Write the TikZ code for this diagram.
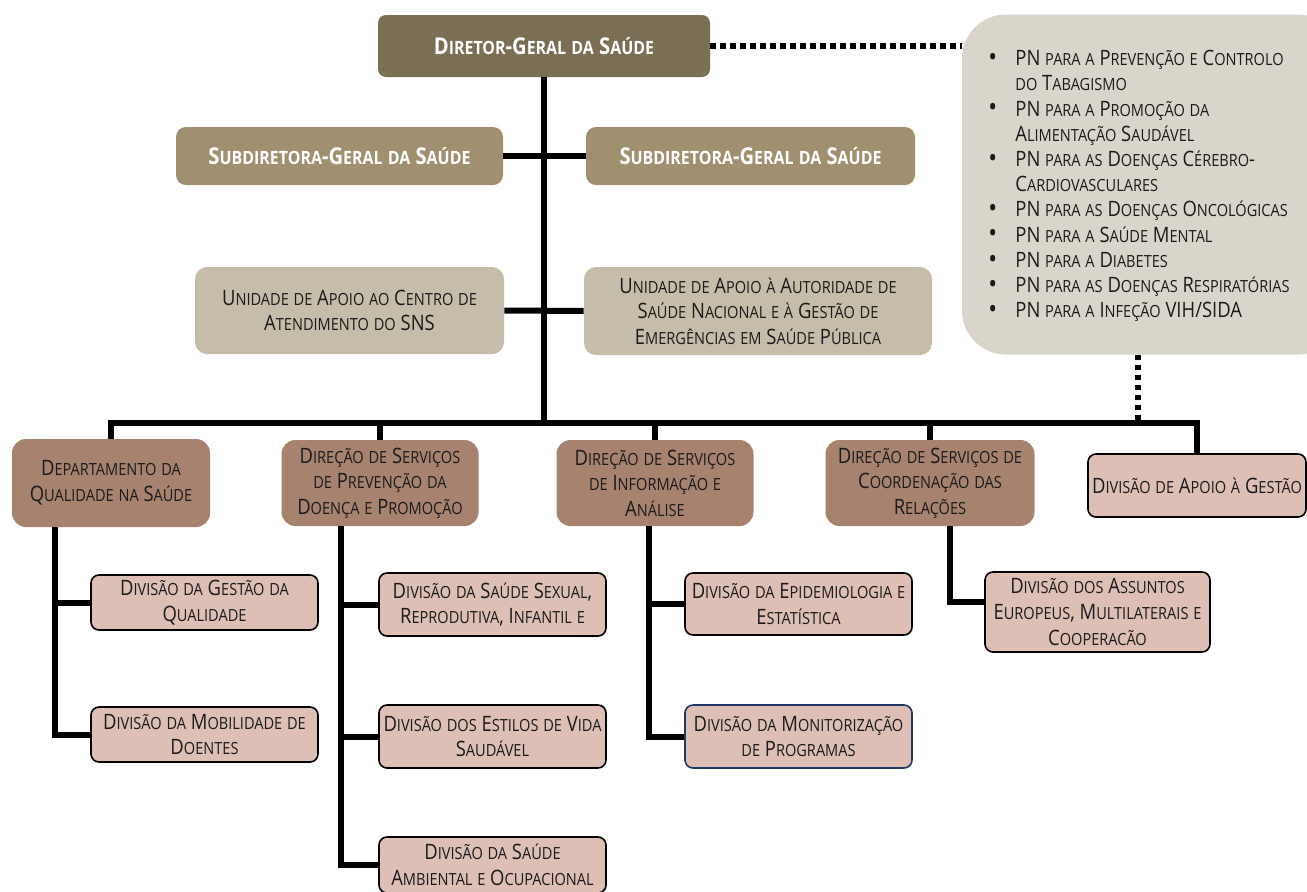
\documentclass[tikz,border=0pt]{standalone}
\usepackage{fontspec}
\setmainfont{Open Sans}[FakeStretch=0.87]
\usetikzlibrary{calc}
\definecolor{cdir}{HTML}{7A6E55}
\definecolor{csub}{HTML}{A09070}
\definecolor{cuni}{HTML}{C5BDAA}
\definecolor{clist}{HTML}{DAD5CA}
\definecolor{cdep}{HTML}{A6826F}
\definecolor{cdiv}{HTML}{DDBFB6}
\definecolor{cmon}{HTML}{1F3864}
\definecolor{ctxt}{HTML}{1A1A1A}
\ExplSyntaxOn
\seq_new:N \l__fsc_lines_seq
\tl_new:N \l__fsc_out_tl
\cs_new_protected:Npn \__fsc_char:n #1
 {
  \str_if_eq:eeTF {#1} { \text_uppercase:n {#1} }
   { #1 }
   {
    \group_begin:
    \fontsize { \fp_eval:n { 0.79 * \use:c { f@size } } } { \baselineskip }
    \selectfont
    \text_uppercase:n {#1}
    \group_end:
   }
 }
\cs_new_protected:Npn \__fsc_line:n #1
 { \str_map_inline:nn {#1} { \__fsc_char:n {##1} } }
\NewDocumentCommand \fsc { m }
 {
  \seq_set_split:Nnn \l__fsc_lines_seq { | } {#1}
  \tl_clear:N \l__fsc_out_tl
  \seq_map_inline:Nn \l__fsc_lines_seq
   {
    \tl_if_empty:NF \l__fsc_out_tl { \tl_put_right:Nn \l__fsc_out_tl { \\ } }
    \tl_put_right:Nn \l__fsc_out_tl { \__fsc_line:n {##1} }
   }
  \tl_use:N \l__fsc_out_tl
 }
\ExplSyntaxOff
\newcommand\bul{\makebox[13.5pt][l]{\fontsize{13.5}{13}\selectfont\raisebox{-0.4pt}{\textbullet}}}
\newcommand\ind{\hspace*{13.5pt}}
\tikzset{
  conn/.style={line width=3pt, black},
  dots/.style={line width=3pt, black, dash pattern=on 2.6pt off 2.4pt},
  base/.style={align=center, inner sep=0pt, text=ctxt, font=\fontsize{10.6}{12.8}\selectfont},
  dirbox/.style={base, rounded corners=4pt, fill=cdir, text=white, font=\fontsize{11.6}{13}\selectfont\bfseries},
  subbox/.style={base, rounded corners=5pt, fill=csub, text=white, font=\fontsize{11.6}{13}\selectfont\bfseries},
  unibox/.style={base, rounded corners=6pt, fill=cuni},
  depbox/.style={base, rounded corners=7pt, fill=cdep},
  divbox/.style={base, rounded corners=4pt, fill=cdiv, draw=black, line width=0.8pt},
  listbox/.style={inner sep=0pt, rounded corners=22pt, fill=clist},
  listtext/.style={align=left, inner sep=0pt, text=ctxt, font=\fontsize{10.6}{12.6}\selectfont},
}
\begin{document}
\begin{tikzpicture}[x=0.5pt, y=-0.5pt]
\useasboundingbox (0,0) rectangle (1307,891);
\fill[white] (0,0) rectangle (1307,891);

% top level
\node[dirbox, minimum width=166pt, minimum height=31pt] (dg) at (544,46) {\fsc{Diretor-Geral da Saúde}};
\node[listbox, minimum width=190pt, minimum height=170pt] (list) at (1152,184.5) {};
\node[listtext, anchor=north west] (lt) at (988,50) {%
\bul\fsc{PN para a Prevenção e Controlo}\\
\ind\fsc{do Tabagismo}\\
\bul\fsc{PN para a Promoção da}\\
\ind\fsc{Alimentação Saudável}\\
\bul\fsc{PN para as Doenças Cérebro-}\\
\ind\fsc{Cardiovasculares}\\
\bul\fsc{PN para as Doenças Oncológicas}\\
\bul\fsc{PN para a Saúde Mental}\\
\bul\fsc{PN para a Diabetes}\\
\bul\fsc{PN para as Doenças Respiratórias}\\
\bul\fsc{PN para a Infeção VIH/SIDA}};

\node[subbox, minimum width=163.5pt, minimum height=29pt] (sdl) at (339.5,156) {\fsc{Subdiretora-Geral da Saúde}};
\node[subbox, minimum width=164.5pt, minimum height=29pt] (sdr) at (750.5,156) {\fsc{Subdiretora-Geral da Saúde}};
\node[unibox, minimum width=154.5pt, minimum height=43.5pt] (ual) at (349.5,310.5) {\fsc{Unidade de Apoio ao Centro de|Atendimento do SNS}};
\node[unibox, minimum width=174pt, minimum height=44pt] (uar) at (758,311) {\fsc{Unidade de Apoio à Autoridade de|Saúde Nacional e à Gestão de|Emergências em Saúde Pública}};

% level 3
\node[depbox, minimum width=99pt, minimum height=44pt] (dep) at (111,483) {\fsc{Departamento da|Qualidade na Saúde}};
\node[depbox, minimum width=98.5pt, minimum height=43pt] (dps) at (380,483) {\fsc{Direção de Serviços|de Prevenção da|Doença e Promoção}};
\node[depbox, minimum width=98.5pt, minimum height=43pt] (dsi) at (655,483) {\fsc{Direção de Serviços|de Informação e|Análise}};
\node[depbox, minimum width=104.5pt, minimum height=43pt] (dsc) at (930,483) {\fsc{Direção de Serviços de|Coordenação das|Relações}};
\node[divbox, minimum width=109pt, minimum height=31.5pt] (apo) at (1197,485.5) {\fsc{Divisão de Apoio à Gestão}};

% divisions
\node[divbox, minimum width=113.5pt, minimum height=27.5pt] (gq) at (204.5,602.5) {\fsc{Divisão da Gestão da|Qualidade}};
\node[divbox, minimum width=113.5pt, minimum height=27.5pt] (mob) at (204.5,734.5) {\fsc{Divisão da Mobilidade de|Doentes}};
\node[divbox, minimum width=113.5pt, minimum height=31.5pt] (sex) at (492.5,604.5) {\fsc{Divisão da Saúde Sexual,|Reprodutiva, Infantil e}};
\node[divbox, minimum width=113.5pt, minimum height=31.5pt] (est) at (492.5,736.5) {\fsc{Divisão dos Estilos de Vida|Saudável}};
\node[divbox, minimum width=113.5pt, minimum height=28pt] (amb) at (492.5,865) {\fsc{Divisão da Saúde|Ambiental e Ocupacional}};
\node[divbox, minimum width=113.5pt, minimum height=31pt] (epi) at (798.5,604) {\fsc{Divisão da Epidemiologia e|Estatística}};
\node[divbox, draw=cmon, minimum width=113.5pt, minimum height=31.5pt] (mon) at (798.5,736.5) {\fsc{Divisão da Monitorização|de Programas}};
\node[divbox, minimum width=112.5pt, minimum height=40pt] (ass) at (1097.5,612) {\fsc{Divisão dos Assuntos|Europeus, Multilaterais e|Cooperacão}};

% connectors
\coordinate (barR) at (1197,423);
\coordinate (dotx) at (1138,423);
\draw[dots] (dg.east) -- (dg.east -| list.west);
\draw[dots] (dotx |- list.south) -- (dotx);
\draw[conn] (dg.south) -- (dg.south |- barR);
\draw[conn] (sdl.east) -- (sdr.west);
\draw[conn] (ual.east) -- (uar.west);
\draw[conn] (dep.north) |- (barR) -- (apo.north);
\draw[conn] (dps.north) -- (dps.north |- barR);
\draw[conn] (dsi.north) -- (dsi.north |- barR);
\draw[conn] (dsc.north) -- (dsc.north |- barR);

\coordinate (v1) at (55,0);
\coordinate (v2) at (341,0);
\coordinate (v3) at (649,0);
\coordinate (v4) at (950,0);
\draw[conn] (v1 |- dep.south) |- (mob.west);
\draw[conn] (v1 |- gq.west) -- (gq.west);
\draw[conn] (v2 |- dps.south) |- (amb.west);
\draw[conn] (v2 |- sex.west) -- (sex.west);
\draw[conn] (v2 |- est.west) -- (est.west);
\draw[conn] (v3 |- dsi.south) |- (mon.west);
\draw[conn] (v3 |- epi.west) -- (epi.west);
\draw[conn] (v4 |- dsc.south) |- ([yshift=5pt]ass.west);
\end{tikzpicture}
\end{document}
